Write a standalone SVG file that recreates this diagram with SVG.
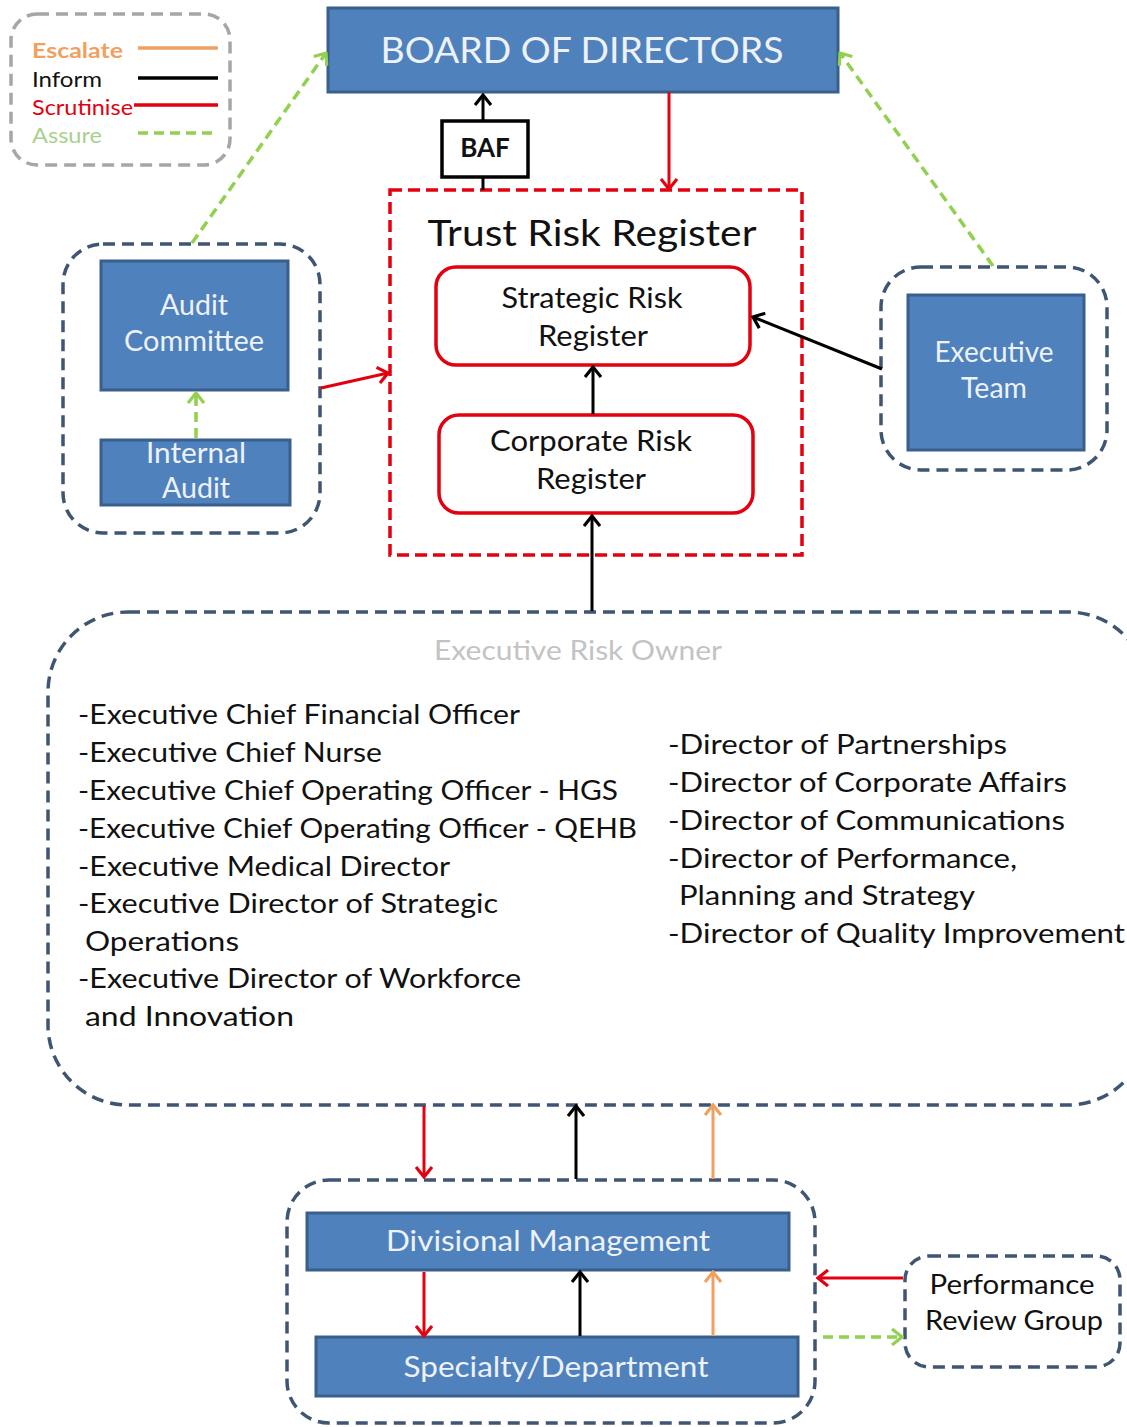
<svg xmlns="http://www.w3.org/2000/svg" width="1127" height="1427" viewBox="0 0 1127 1427">
  <style>
    text { font-family: Lato, "Open Sans", "Liberation Sans", sans-serif; }
    .box { fill: #4f81bd; stroke: #3a5f8b; stroke-width: 3; }
    .boxtxt { fill: #eef2f8; font-size: 28px; text-anchor: middle; }
    .group { fill: none; stroke: #3f5673; stroke-width: 3.5; stroke-dasharray: 12 7; }
    .reg { fill: #ffffff; stroke: #e3000f; stroke-width: 3.5; }
    .regtxt { fill: #111111; font-size: 28px; text-anchor: middle; }
    .list { fill: #111111; font-size: 27px; }
    .red { stroke: #e3000f; stroke-width: 3; fill: none; }
    .black { stroke: #000000; stroke-width: 3; fill: none; }
    .orange { stroke: #f0a060; stroke-width: 3; fill: none; }
    .green { stroke: #92d050; stroke-width: 3.5; fill: none; stroke-dasharray: 10 6; }
  </style>
  <defs>
    <marker id="ah-red" viewBox="0 0 18 18" refX="16" refY="9" markerWidth="18" markerHeight="18" markerUnits="userSpaceOnUse" orient="auto">
      <path d="M6,1 L16,9 L6,17" fill="none" stroke="#e3000f" stroke-width="3.2"/>
    </marker>
    <marker id="ah-black" viewBox="0 0 18 18" refX="16" refY="9" markerWidth="18" markerHeight="18" markerUnits="userSpaceOnUse" orient="auto">
      <path d="M6,1 L16,9 L6,17" fill="none" stroke="#000000" stroke-width="3.2"/>
    </marker>
    <marker id="ah-orange" viewBox="0 0 18 18" refX="16" refY="9" markerWidth="18" markerHeight="18" markerUnits="userSpaceOnUse" orient="auto">
      <path d="M6,1 L16,9 L6,17" fill="none" stroke="#f0a060" stroke-width="3.2"/>
    </marker>
    <marker id="ah-green" viewBox="0 0 18 18" refX="16" refY="9" markerWidth="18" markerHeight="18" markerUnits="userSpaceOnUse" orient="auto">
      <path d="M6,1 L16,9 L6,17" fill="none" stroke="#92d050" stroke-width="3.2"/>
    </marker>
  </defs>

  <rect width="1127" height="1427" fill="#ffffff"/>

  <!-- Legend -->
  <g id="legend">
    <rect x="11" y="14" width="219" height="151" rx="26" fill="none" stroke="#a6a6a6" stroke-width="3.5" stroke-dasharray="12 7"/>
    <text x="32" y="58" font-size="21" font-weight="bold" fill="#f0a060" textLength="91" lengthAdjust="spacingAndGlyphs">Escalate</text>
    <text x="32" y="87" font-size="21" fill="#111111" textLength="70" lengthAdjust="spacingAndGlyphs">Inform</text>
    <text x="32" y="115" font-size="21" fill="#e3000f" textLength="101" lengthAdjust="spacingAndGlyphs">Scrutinise</text>
    <text x="32" y="143" font-size="21" fill="#a9d18e" textLength="70" lengthAdjust="spacingAndGlyphs">Assure</text>
    <line x1="138" y1="48" x2="218" y2="48" stroke="#f0a060" stroke-width="3.5"/>
    <line x1="138" y1="78" x2="218" y2="78" stroke="#000000" stroke-width="3.5"/>
    <line x1="134" y1="105" x2="218" y2="105" stroke="#e3000f" stroke-width="3.5"/>
    <line x1="138" y1="133" x2="218" y2="133" stroke="#92d050" stroke-width="3.5" stroke-dasharray="10 6"/>
  </g>

  <!-- Board -->
  <g id="board">
    <rect class="box" x="328" y="8" width="510" height="84"/>
    <text x="582" y="63" font-size="36" fill="#eef2f8" text-anchor="middle" textLength="403" lengthAdjust="spacingAndGlyphs">BOARD OF DIRECTORS</text>
  </g>

  <!-- Trust Risk Register -->
  <g id="trust-register">
    <rect x="390" y="190" width="412" height="365" fill="none" stroke="#e3000f" stroke-width="3.5" stroke-dasharray="12 6"/>
    <text x="592" y="246" font-size="37" fill="#111111" text-anchor="middle" textLength="329" lengthAdjust="spacingAndGlyphs">Trust Risk Register</text>
  </g>
  <g id="strategic-register">
    <rect class="reg" x="436" y="267" width="314" height="98" rx="20"/>
    <text class="regtxt" x="592" y="308" textLength="181" lengthAdjust="spacingAndGlyphs">Strategic Risk</text>
    <text class="regtxt" x="593" y="346" textLength="110" lengthAdjust="spacingAndGlyphs">Register</text>
  </g>
  <g id="corporate-register">
    <rect class="reg" x="439" y="415" width="314" height="98" rx="20"/>
    <text class="regtxt" x="591" y="451" textLength="202" lengthAdjust="spacingAndGlyphs">Corporate Risk</text>
    <text class="regtxt" x="591" y="489" textLength="110" lengthAdjust="spacingAndGlyphs">Register</text>
  </g>

  <!-- Audit -->
  <g id="audit-group">
    <rect class="group" x="63" y="244" width="257" height="289" rx="40"/>
  </g>
  <g id="audit-committee">
    <rect class="box" x="101" y="261" width="187" height="129"/>
    <text class="boxtxt" x="194" y="315" textLength="68" lengthAdjust="spacingAndGlyphs">Audit</text>
    <text class="boxtxt" x="194" y="351" textLength="140" lengthAdjust="spacingAndGlyphs">Committee</text>
  </g>
  <g id="internal-audit">
    <rect class="box" x="101" y="440" width="189" height="65"/>
    <text class="boxtxt" x="196" y="463" textLength="100" lengthAdjust="spacingAndGlyphs">Internal</text>
    <text class="boxtxt" x="196" y="498" textLength="68" lengthAdjust="spacingAndGlyphs">Audit</text>
  </g>

  <!-- Executive team -->
  <g id="executive-group">
    <rect class="group" x="881" y="267" width="226" height="203" rx="40"/>
  </g>
  <g id="executive-team">
    <rect class="box" x="908" y="295" width="176" height="155"/>
    <text class="boxtxt" x="994" y="362" textLength="119" lengthAdjust="spacingAndGlyphs">Executive</text>
    <text class="boxtxt" x="994" y="398" textLength="66" lengthAdjust="spacingAndGlyphs">Team</text>
  </g>

  <!-- Executive risk owners -->
  <g id="risk-owner">
    <rect class="group" x="48" y="612" width="1100" height="493" rx="80"/>
    <text x="578" y="660" font-size="27" fill="#c3c3c3" text-anchor="middle" textLength="288" lengthAdjust="spacingAndGlyphs">Executive Risk Owner</text>
    <text class="list" x="78" y="724" textLength="442" lengthAdjust="spacingAndGlyphs">-Executive Chief Financial Officer</text>
    <text class="list" x="78" y="762" textLength="304" lengthAdjust="spacingAndGlyphs">-Executive Chief Nurse</text>
    <text class="list" x="78" y="800" textLength="540" lengthAdjust="spacingAndGlyphs">-Executive Chief Operating Officer - HGS</text>
    <text class="list" x="78" y="838" textLength="559" lengthAdjust="spacingAndGlyphs">-Executive Chief Operating Officer - QEHB</text>
    <text class="list" x="78" y="876" textLength="372" lengthAdjust="spacingAndGlyphs">-Executive Medical Director</text>
    <text class="list" x="78" y="913" textLength="420" lengthAdjust="spacingAndGlyphs">-Executive Director of Strategic</text>
    <text class="list" x="85" y="951" textLength="154" lengthAdjust="spacingAndGlyphs">Operations</text>
    <text class="list" x="78" y="988" textLength="443" lengthAdjust="spacingAndGlyphs">-Executive Director of Workforce</text>
    <text class="list" x="85" y="1026" textLength="209" lengthAdjust="spacingAndGlyphs">and Innovation</text>
    <text class="list" x="668" y="754" textLength="339" lengthAdjust="spacingAndGlyphs">-Director of Partnerships</text>
    <text class="list" x="668" y="792" textLength="399" lengthAdjust="spacingAndGlyphs">-Director of Corporate Affairs</text>
    <text class="list" x="668" y="830" textLength="397" lengthAdjust="spacingAndGlyphs">-Director of Communications</text>
    <text class="list" x="668" y="868" textLength="349" lengthAdjust="spacingAndGlyphs">-Director of Performance,</text>
    <text class="list" x="679" y="905" textLength="296" lengthAdjust="spacingAndGlyphs">Planning and Strategy</text>
    <text class="list" x="668" y="943" textLength="457" lengthAdjust="spacingAndGlyphs">-Director of Quality Improvement</text>
  </g>

  <!-- Divisional level -->
  <g id="divisional-group">
    <rect class="group" x="287" y="1180" width="528" height="243" rx="42"/>
  </g>
  <g id="divisional-management">
    <rect class="box" x="307" y="1213" width="482" height="57"/>
    <text x="548" y="1251" font-size="28" fill="#eef2f8" text-anchor="middle" textLength="324" lengthAdjust="spacingAndGlyphs">Divisional Management</text>
  </g>
  <g id="specialty-department">
    <rect class="box" x="316" y="1337" width="482" height="59"/>
    <text x="556" y="1377" font-size="28" fill="#eef2f8" text-anchor="middle" textLength="305" lengthAdjust="spacingAndGlyphs">Specialty/Department</text>
  </g>
  <g id="performance-review">
    <rect class="group" x="905" y="1256" width="215" height="111" rx="24"/>
    <text x="1012" y="1294" font-size="27" fill="#111111" text-anchor="middle" textLength="165" lengthAdjust="spacingAndGlyphs">Performance</text>
    <text x="1014" y="1330" font-size="27" fill="#111111" text-anchor="middle" textLength="178" lengthAdjust="spacingAndGlyphs">Review Group</text>
  </g>

  <!-- BAF -->
  <g id="baf">
    <rect x="442" y="121" width="86" height="56" fill="#ffffff" stroke="#000000" stroke-width="3.5"/>
    <text x="485" y="157" font-size="26" font-weight="bold" fill="#111111" text-anchor="middle">BAF</text>
  </g>

  <!-- Connectors -->
  <g id="connectors">
    <line class="black" x1="483" y1="190" x2="483" y2="177"/>
    <line class="black" x1="483" y1="121" x2="483" y2="95" marker-end="url(#ah-black)"/>
    <line class="red" x1="669" y1="92" x2="669" y2="189" marker-end="url(#ah-red)"/>
    <line class="green" x1="192" y1="243" x2="326" y2="53" marker-end="url(#ah-green)"/>
    <line class="green" x1="993" y1="266" x2="840" y2="53" marker-end="url(#ah-green)"/>
    <line class="green" x1="196" y1="438" x2="196" y2="393" marker-end="url(#ah-green)"/>
    <line class="red" x1="321" y1="388" x2="388" y2="373" marker-end="url(#ah-red)"/>
    <line class="black" x1="882" y1="369" x2="753" y2="317" marker-end="url(#ah-black)"/>
    <line class="black" x1="593" y1="414" x2="593" y2="367" marker-end="url(#ah-black)"/>
    <line class="black" x1="592" y1="611" x2="592" y2="516" marker-end="url(#ah-black)"/>
    <line class="red" x1="424" y1="1106" x2="424" y2="1177" marker-end="url(#ah-red)"/>
    <line class="black" x1="576" y1="1179" x2="576" y2="1106" marker-end="url(#ah-black)"/>
    <line class="orange" x1="713" y1="1179" x2="713" y2="1105" marker-end="url(#ah-orange)"/>
    <line class="red" x1="424" y1="1272" x2="424" y2="1336" marker-end="url(#ah-red)"/>
    <line class="black" x1="580" y1="1336" x2="580" y2="1272" marker-end="url(#ah-black)"/>
    <line class="orange" x1="713" y1="1336" x2="713" y2="1272" marker-end="url(#ah-orange)"/>
    <line class="red" x1="903" y1="1278" x2="818" y2="1278" marker-end="url(#ah-red)"/>
    <line class="green" x1="823" y1="1337" x2="902" y2="1337" marker-end="url(#ah-green)"/>
  </g>
</svg>
